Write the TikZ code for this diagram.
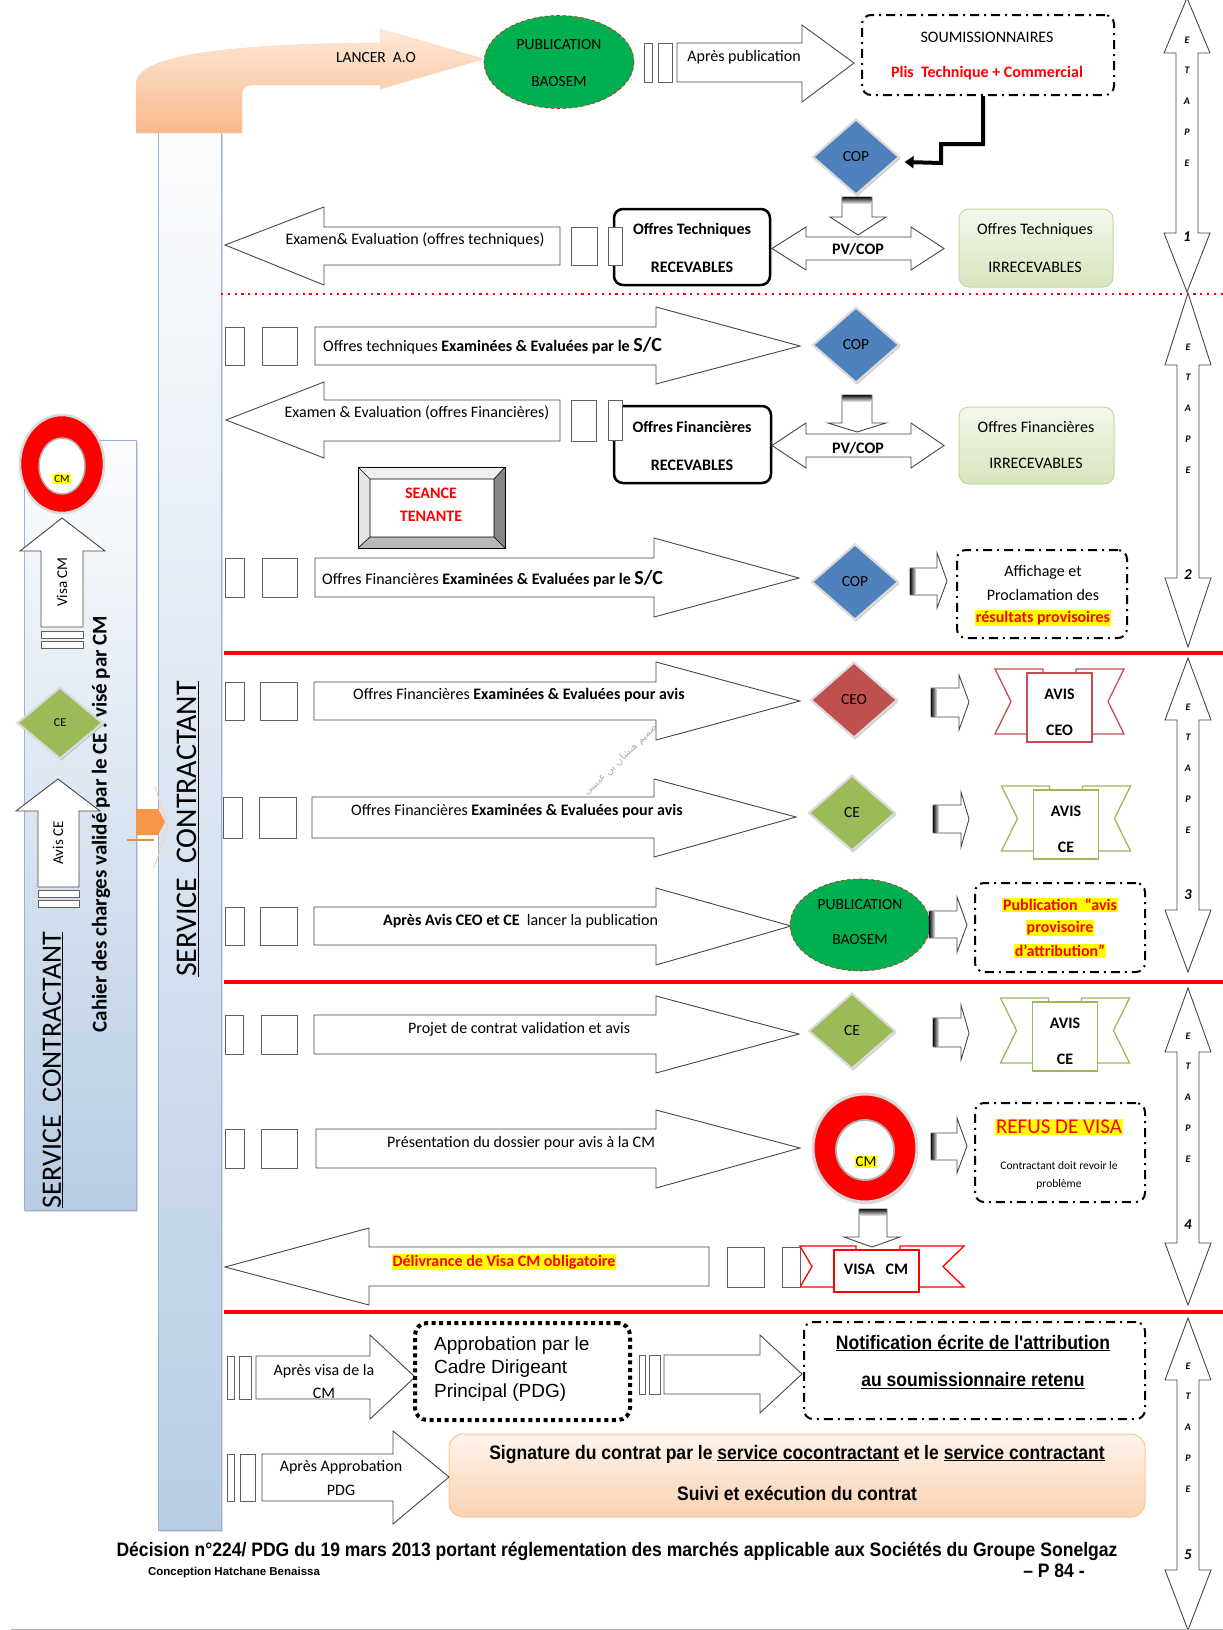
\documentclass[tikz,border=0pt]{standalone}
\usepackage{fontspec}
\setmainfont{Carlito}
\newfontfamily\narrowf[FakeStretch=0.9]{Liberation Sans}
\newfontfamily\arialf{Liberation Sans}
\newfontfamily\arabicfont[Script=Arabic]{DejaVu Sans}
\TeXXeTstate=1
\usetikzlibrary{shapes.geometric,shadows,calc,arrows.meta}

\definecolor{copblue}{HTML}{4F81BD}
\definecolor{cegreen}{HTML}{9BBB59}
\definecolor{ceored}{HTML}{C0504D}
\definecolor{baogreen}{HTML}{00B050}
\definecolor{panelblue}{HTML}{B8CCE4}
\definecolor{panelline}{HTML}{95B3D7}
\definecolor{pale}{HTML}{F4F8EC}
\definecolor{palegreen}{HTML}{D7E4BD}
\definecolor{paleline}{HTML}{C3D69B}
\definecolor{peach}{HTML}{FDEADA}
\definecolor{orangedeep}{HTML}{F9B88A}
\definecolor{signtop}{HTML}{FEF4EC}
\definecolor{signbot}{HTML}{FAD2B2}
\definecolor{hl}{HTML}{FFFF00}
\definecolor{arrorange}{HTML}{F79646}

\newcommand\fs[1]{\fontsize{#1}{#1}\selectfont}
\newcommand\hilite[1]{{\setlength{\fboxsep}{1pt}\colorbox{hl}{#1}}}

% block arrow: tail x, head-base x, tip x, shaft top, shaft bottom, head top, head bottom, tip y
\newcommand\harrow[8]{\draw[blockar] (#1,#4) -- (#2,#4) -- (#2,#6) -- (#3,#8) -- (#2,#7) -- (#2,#5) -- (#1,#5) -- cycle;}
% vertical block arrow: tail y, head-base y, tip y, shaft left, shaft right, head left, head right, tip x
\newcommand\varrow[8]{\draw[blockar] (#4,#1) -- (#4,#2) -- (#6,#2) -- (#8,#3) -- (#7,#2) -- (#5,#2) -- (#5,#1) -- cycle;}
% two-headed arrow: left tip, left base, right base, right tip, shaft top, shaft bottom, head top, head bottom
\newcommand\dblarrow[8]{\draw[blockar] (#1,{(#7+#8)/2}) -- (#2,#7) -- (#2,#5) -- (#3,#5) -- (#3,#7) -- (#4,{(#7+#8)/2}) -- (#3,#8) -- (#3,#6) -- (#2,#6) -- (#2,#8) -- cycle;}
% short push arrow with a dark tail band
\newcommand\pusharrow[8]{\harrow{#1}{#2}{#3}{#4}{#5}{#6}{#7}{#8}
  \shade[left color=black!85, right color=black!10] (#1+0.6,#4+0.6) rectangle (#1+6,#5-0.6);}
% down arrow with a dark top band
\newcommand\downpush[8]{\varrow{#1}{#2}{#3}{#4}{#5}{#6}{#7}{#8}
  \shade[top color=black!85, bottom color=black!15] (#4+0.6,#1+0.6) rectangle (#5-0.6,#1+6);}
% ETAPE double arrow: x centre, top tip, upper head base, lower head base, bottom tip
\newcommand\etape[5]{\draw[blockar] (#1,#2) -- (#1+23,#3) -- (#1+11,#3) -- (#1+11,#4) -- (#1+23,#4) -- (#1,#5) -- (#1-23,#4) -- (#1-11,#4) -- (#1-11,#3) -- (#1-23,#3) -- cycle;}
% ETAPE lettering: x, first letter y, number, number y
\newcommand\etapelabels[4]{%
  \foreach \l [count=\i from 0] in {E,T,A,P,E} \node[etl] (et#3-\i) at (#1,#2+30.7*\i) {\l};
  \node[etn] (etn#3) at (#1,#4) {#3};}
% opinion ribbon: centre x, top y, colour
\newcommand\avisribbon[3]{%
  \begin{scope}[shift={(#1,#2)}, draw=#3, line width=1.3pt, fill=white]
    \filldraw (-64.5,0) -- (-16.5,0) -- (-16.5,65) -- (-64.5,65) -- (-48.5,32.5) -- cycle;
    \filldraw (64.5,0) -- (16.5,0) -- (16.5,65) -- (64.5,65) -- (48.5,32.5) -- cycle;
    \filldraw (-32.5,4) rectangle (32.5,73);
  \end{scope}}

\begin{document}
\begin{tikzpicture}[x=1pt,y=-1pt,
  blockar/.style={draw=black!72, line width=0.9pt, fill=white, line join=miter},
  bar/.style={draw=black!62, line width=1pt, fill=white},
  txt/.style={inner sep=0pt},
  etl/.style={inner sep=0pt, font=\bfseries\itshape\fs{10}},
  etn/.style={inner sep=0pt, font=\bfseries\itshape\fs{15}},
  diam/.style={diamond, minimum width=87pt, minimum height=76pt, inner sep=0pt,
    draw=white!86!black, line width=2.2pt, font=\fs{15.5},
    drop shadow={shadow xshift=1pt, shadow yshift=-2pt, fill=black!40, opacity=0.5}},
  panel/.style={rectangle, draw=panelline, line width=0.8pt, inner sep=0pt,
    top color=white!95!panelblue, bottom color=panelblue,
    drop shadow={shadow xshift=2pt, shadow yshift=-2pt, fill=black!40, opacity=0.35}},
  dashdot/.style={rectangle, draw=black, line width=2pt, rounded corners=9pt, inner sep=0pt,
    dash pattern=on 9pt off 5pt on 2pt off 5pt},
  dotbox/.style={rectangle, draw=black, line width=4pt, rounded corners=12pt, inner sep=0pt,
    dash pattern=on 4pt off 3.6pt},
  recbox/.style={rectangle, draw=black, line width=2.5pt, rounded corners=9pt, fill=white, inner sep=0pt},
  irbox/.style={rectangle, draw=paleline, line width=1pt, rounded corners=10pt, inner sep=0pt,
    top color=pale, bottom color=palegreen},
  pubell/.style={ellipse, fill=baogreen, draw=red, dashed, line width=0.6pt, inner sep=0pt},
  redline/.style={red, line width=4pt},
  ]
\useasboundingbox (0,0) rectangle (1223,1630);

% ---------- left side: contracting service panels ----------
\node[panel, minimum width=112pt, minimum height=770pt] (leftpanel) at (80,825) {};
\node[panel, minimum width=63pt, minimum height=1398pt] (column) at (189.5,831) {};
\node[rotate=90, txt, font=\fs{30}] (coltitle) at (188,829) {\underline{SERVICE\ \ CONTRACTANT}};
\node[rotate=90, txt, font=\fs{28}] (lefttitle) at (53,1070) {\underline{SERVICE\ \ CONTRACTANT}};
\node[rotate=90, txt, font=\bfseries\fs{21}] (cahier) at (101,824) {Cahier des charges validé par le CE . visé par CM};

% CM ring of the left panel
\node[ellipse, minimum width=84pt, minimum height=98pt, fill=red, draw=black!15, line width=2.5pt, inner sep=0pt] (cmleft) at (62,464) {};
\node[ellipse, minimum width=46pt, minimum height=56pt, fill=white, draw=black!30, line width=1.5pt, inner sep=0pt] (cmlefthole) at (62,466) {};
\node[txt, font=\fs{11}] (cmlefttag) at (62,479) {\hilite{CM}};
% Visa CM arrow
\varrow{627}{551}{518}{41}{83}{20}{105}{62}
\draw[bar] (41,631) rectangle (83,638);
\draw[bar] (41,641) rectangle (83,648);
\node[rotate=90, txt, font=\fs{15}] (visacm) at (62,582) {Visa CM};
% CE and Avis CE arrow
\varrow{887}{811}{779}{38}{79}{16}{100}{58}
\draw[bar] (38,890) rectangle (79,897);
\draw[bar] (38,900) rectangle (79,907);
\node[rotate=90, txt, font=\fs{15}] (avisce) at (58,843) {Avis CE};
\node[diam, fill=cegreen, minimum width=86pt, minimum height=72pt, font=\fs{12}] (celeft) at (60,723) {CE};
% small orange arrow between the panels
\draw[arrorange!45, line width=1pt] (155,787) -- (168,827) -- (154,868);
\draw[arrorange!70!brown, line width=1.2pt] (127,840) -- (154,840);
\fill[arrorange] (136,809) -- (158,809) -- (165,822) -- (158,835) -- (136,835) -- cycle;

% ---------- launching the call for tenders ----------
\shade[top color=peach, bottom color=orangedeep, draw=orangedeep!60, line width=0.4pt]
  (136,133) -- (136,82) .. controls (140,55) and (230,44) .. (380,43) -- (380,29) -- (484,59)
  -- (380,89) -- (380,85) -- (252,85) .. controls (245,85) and (242,89) .. (242,95) -- (242,133) -- cycle;
\node[txt, font=\fs{15.5}] (lancer) at (376,58) {LANCER\ \ A.O};

\node[pubell, minimum width=150pt, minimum height=93pt] (pub1) at (559,62) {};
\node[txt, font=\fs{15.5}] (pub1a) at (559,45) {PUBLICATION};
\node[txt, font=\fs{15.5}] (pub1b) at (559,82) {BAOSEM};

\draw[bar] (644,43) rectangle (652,82);
\draw[bar] (658,43) rectangle (672,82);
\harrow{677}{802}{854}{43}{82}{25}{102}{63}
\node[txt, font=\fs{16}] (apub) at (744,57) {Après publication};

\node[dashdot, minimum width=252pt, minimum height=80pt] (soum) at (988,55) {};
\node[txt, font=\fs{16}] (soumA) at (987,37) {SOUMISSIONNAIRES};
\node[txt, font=\bfseries\fs{16}, text=red] (soumB) at (987,73) {Plis\ \ Technique + Commercial};

\node[diam, fill=copblue] (cop1) at (856,157) {COP};
\draw[line width=4pt, -{Triangle[length=9pt,width=12pt]}]
  ($(soum.south)+(-5,0)$) -- ++(0,48) -- ++(-42,0) -- ++(0,19) -- ($(cop1.east)+(4,5)$);

\downpush{197}{217}{235}{842}{872}{830}{886}{858}
\dblarrow{772}{806}{911}{944}{237}{260}{227}{270}
\node[txt, font=\bfseries\fs{16}] (pv1) at (858,249) {PV/COP};

\node[recbox, minimum width=156pt, minimum height=76pt] (rec1) at (692,247) {};
\node[txt, font=\bfseries\fs{16}] (rec1a) at (692,230) {Offres Techniques};
\node[txt, font=\bfseries\fs{16}] (rec1b) at (692,267) {RECEVABLES};
\draw[bar] (608,227) rectangle (622,265);
\draw[bar] (571,227) rectangle (597,265);

\harrow{560}{324}{225}{227}{265}{207}{285}{245}
\node[txt, font=\fs{16}] (exam1) at (415,240) {Examen\& Evaluation (offres techniques)};

\node[irbox, minimum width=154pt, minimum height=78pt] (irr1) at (1036,248) {};
\node[txt, font=\fs{16}] (irr1a) at (1035,230) {Offres Techniques};
\node[txt, font=\fs{16}] (irr1b) at (1035,267) {IRRECEVABLES};

% ---------- separators ----------
\draw[red, line width=2.2pt, dash pattern=on 2.2pt off 4.6pt] (221,294) -- (1223,294);
\draw[redline] (224,653) -- (1223,653);
\draw[redline] (224,982) -- (1223,982);
\draw[redline] (224,1312) -- (1223,1312);

% faint signature watermark
\node[rotate=44, anchor=east, txt, text=black!30, font=\arabicfont\fs{10}] (wm) at (658,724) {\beginR تصميم هتشان بن عيسى\endR};

% ---------- stage 2 ----------
\draw[bar] (225,327) rectangle (244,365);
\draw[bar] (262,327) rectangle (297,365);
\harrow{315}{656}{800}{327}{365}{307}{384}{346}
\node[txt, anchor=west, font=\fs{16}] (r21) at (323,346) {Offres techniques \textbf{Examinées \& Evaluées par le {\fs{20}S/C}}};
\node[diam, fill=copblue] (cop2) at (856,345) {COP};

\harrow{560}{324}{226}{400}{441}{382}{458}{420}
\node[txt, font=\fs{16}] (exam2) at (417,413) {Examen \& Evaluation (offres Financières)};
\draw[bar] (571,400) rectangle (596,441);
\node[recbox, minimum width=157pt, minimum height=77pt] (rec2) at (692.5,444.5) {};
\node[txt, font=\bfseries\fs{16}] (rec2a) at (692,427) {Offres Financières};
\node[txt, font=\bfseries\fs{16}] (rec2b) at (692,465) {RECEVABLES};
\draw[bar] (608,400) rectangle (622,440);
\downpush{395}{423}{432}{842}{872}{828}{886}{857}
\dblarrow{772}{806}{911}{944}{434}{457}{423}{468}
\node[txt, font=\bfseries\fs{16}] (pv2) at (858,448) {PV/COP};
\node[irbox, minimum width=155pt, minimum height=77pt] (irr2) at (1036.5,445.5) {};
\node[txt, font=\fs{16}] (irr2a) at (1036,427) {Offres Financières};
\node[txt, font=\fs{16}] (irr2b) at (1036,463) {IRRECEVABLES};

% bevelled "seance tenante" plate
\fill[white!94!black] (358,467) -- (505,467) -- (494,479) -- (370,479) -- cycle;
\fill[black!10] (358,467) -- (370,479) -- (370,537) -- (358,548) -- cycle;
\fill[black!28] (358,548) -- (370,537) -- (494,537) -- (505,548) -- cycle;
\fill[black!48] (505,467) -- (494,479) -- (494,537) -- (505,548) -- cycle;
\draw[black, line width=0.8pt] (358,467) rectangle (505,548);
\draw[black, line width=0.6pt] (370,479) rectangle (494,537)
  (358,467) -- (370,479) (505,467) -- (494,479) (358,548) -- (370,537) (505,548) -- (494,537);
\node[txt, font=\bfseries\fs{16}, text=red] (seanceA) at (431,493) {SEANCE};
\node[txt, font=\bfseries\fs{16}, text=red] (seanceB) at (431,516) {TENANTE};

\draw[bar] (225,558) rectangle (244,597);
\draw[bar] (262,558) rectangle (297,597);
\harrow{315}{654}{799}{558}{597}{538}{617}{578}
\node[txt, anchor=west, font=\fs{16}] (r22) at (322,579) {Offres Financières \textbf{Examinées \& Evaluées par le {\fs{20}S/C}}};
\node[diam, fill=copblue] (cop3) at (855,582) {COP};
\pusharrow{910}{937}{947}{568}{595}{553}{608}{581}
\node[dashdot, minimum width=170pt, minimum height=88pt] (affich) at (1042,594) {};
\node[txt, font=\fs{16}] (affA) at (1043,572) {Affichage et};
\node[txt, font=\fs{16}] (affB) at (1043,595) {Proclamation des};
\node[txt, font=\bfseries\fs{16}, text=red] (affC) at (1043,618) {\hilite{résultats provisoires}};

% ---------- stage 3 ----------
\draw[bar] (225,682) rectangle (244,720);
\draw[bar] (260,682) rectangle (297,720);
\harrow{314}{656}{800}{682}{720}{662}{740}{701}
\node[txt, anchor=west, font=\fs{16}] (r31) at (353,695) {Offres Financières \textbf{Examinées \& Evaluées pour avis}};
\node[diam, fill=ceored] (ceo) at (854,700) {CEO};
\pusharrow{931}{959}{969}{688}{717}{675}{730}{702}
\avisribbon{1059.5}{669}{ceored}
\node[txt, font=\bfseries\fs{16}] (avis1a) at (1059.5,694) {AVIS};
\node[txt, font=\bfseries\fs{16}] (avis1b) at (1059.5,730) {CEO};

\draw[bar] (223,797) rectangle (242,838);
\draw[bar] (259,797) rectangle (296,838);
\harrow{312}{654}{796}{797}{838}{779}{857}{817}
\node[txt, anchor=west, font=\fs{16}] (r32) at (351,811) {Offres Financières \textbf{Examinées \& Evaluées pour avis}};
\node[diam, fill=cegreen] (ce1) at (852,813) {CE};
\pusharrow{933}{961}{969}{805}{833}{792}{847}{819}
\avisribbon{1066}{786}{cegreen}
\node[txt, font=\bfseries\fs{16}] (avis2a) at (1066,811) {AVIS};
\node[txt, font=\bfseries\fs{16}] (avis2b) at (1066,847) {CE};

\draw[bar] (225,907) rectangle (244,945);
\draw[bar] (260,907) rectangle (297,945);
\harrow{314}{656}{791}{907}{945}{888}{965}{926}
\node[txt, anchor=west, font=\fs{16}] (r33) at (383,921) {\textbf{Après Avis CEO et CE}\ \ lancer la publication};
\node[pubell, minimum width=140pt, minimum height=92pt] (pub2) at (860,925) {};
\node[txt, font=\fs{15.5}] (pub2a) at (860,905) {PUBLICATION};
\node[txt, font=\fs{15.5}] (pub2b) at (860,940) {BAOSEM};
\pusharrow{929}{957}{967}{911}{938}{897}{952}{925}
\node[dashdot, minimum width=170pt, minimum height=89pt] (provis) at (1060,927.5) {};
\node[txt, font=\bfseries\fs{16}, text=red] (provA) at (1060,905) {\hilite{Publication\ \ “avis}};
\node[txt, font=\bfseries\fs{16}, text=red] (provB) at (1060,928) {\hilite{provisoire}};
\node[txt, font=\bfseries\fs{16}, text=red] (provC) at (1060,951) {\hilite{d’attribution”}};

% ---------- stage 4 ----------
\draw[bar] (225,1015) rectangle (243,1054);
\draw[bar] (261,1015) rectangle (297,1054);
\harrow{314}{656}{799}{1015}{1054}{996}{1073}{1034}
\node[txt, anchor=west, font=\fs{16}] (r41) at (408,1029) {Projet de contrat validation et avis};
\node[diam, fill=cegreen] (ce2) at (852,1031) {CE};
\pusharrow{933}{961}{969}{1018}{1047}{1005}{1060}{1033}
\avisribbon{1065}{998}{cegreen}
\node[txt, font=\bfseries\fs{16}] (avis3a) at (1065,1023) {AVIS};
\node[txt, font=\bfseries\fs{16}] (avis3b) at (1065,1059) {CE};

\draw[bar] (225,1129) rectangle (244,1168);
\draw[bar] (261,1129) rectangle (297,1168);
\harrow{316}{656}{800}{1129}{1168}{1110}{1188}{1148}
\node[txt, anchor=west, font=\fs{16}] (r42) at (387,1143) {Présentation du dossier pour avis à la CM};
\node[ellipse, minimum width=104pt, minimum height=108pt, fill=red, draw=black!15, line width=3pt, inner sep=0pt,
  drop shadow={shadow xshift=1pt, shadow yshift=-2pt, fill=black!40, opacity=0.4}] (cm) at (865,1148) {};
\node[ellipse, minimum width=58pt, minimum height=60pt, fill=white, draw=black!30, line width=1.8pt, inner sep=0pt] (cmhole) at (865,1150) {};
\node[txt, font=\fs{15}] (cmtag) at (866,1162) {\hilite{CM}};
\pusharrow{931}{957}{967}{1133}{1160}{1118}{1173}{1146}
\node[dashdot, minimum width=170pt, minimum height=99pt] (refus) at (1060,1152.5) {};
\node[txt, font=\fs{21}, text=red] (refusA) at (1059,1127) {\hilite{REFUS DE VISA}};
\node[txt, font=\fs{11.5}] (refusB) at (1059,1166) {Contractant doit revoir le};
\node[txt, font=\fs{11.5}] (refusC) at (1059,1184) {problème};

\downpush{1209}{1237}{1247}{859}{887}{844}{900}{872}
\begin{scope}[draw=red, line width=1.3pt, fill=white]
  \filldraw (800,1246) -- (856,1246) -- (856,1287) -- (800,1287) -- (812,1266.5) -- cycle;
  \filldraw (964,1246) -- (900,1246) -- (900,1287) -- (964,1287) -- (943,1266.5) -- cycle;
  \filldraw (834,1250) rectangle (919,1292);
\end{scope}
\node[txt, font=\bfseries\fs{16}] (visa) at (876,1269) {VISA\ \ \ CM};

\harrow{709}{369}{225}{1247}{1286}{1228}{1305}{1267}
\node[txt, font=\bfseries\fs{16}, text=red] (deliv) at (504,1262) {\hilite{Délivrance de Visa CM obligatoire}};
\draw[bar] (727,1247) rectangle (764,1287);
\draw[bar] (782,1247) rectangle (800,1287);

% ---------- stage 5 ----------
\draw[bar] (227,1356) rectangle (234,1399);
\draw[bar] (239,1356) rectangle (251,1399);
\harrow{256}{370}{415}{1356}{1399}{1335}{1419}{1377}
\node[txt, font=\fs{16}] (avA) at (324,1371) {Après visa de la};
\node[txt, font=\fs{16}] (avB) at (324,1393) {CM};
\node[dotbox, minimum width=215pt, minimum height=97pt] (approb) at (522.5,1371.5) {};
\node[txt, anchor=west, font=\arialf\fs{19}] (apA) at (434,1346) {Approbation par le};
\node[txt, anchor=west, font=\arialf\fs{19}] (apB) at (434,1369) {Cadre Dirigeant};
\node[txt, anchor=west, font=\arialf\fs{19}] (apC) at (434,1393) {Principal (PDG)};
\draw[bar] (639,1355) rectangle (645,1394);
\draw[bar] (649,1355) rectangle (660,1394);
\harrow{664}{760}{802}{1355}{1394}{1335}{1413}{1374}
\node[dashdot, minimum width=341pt, minimum height=97pt] (notif) at (974.5,1370.5) {};
\node[txt, font=\narrowf\bfseries\fs{19.5}] (notA) at (973,1343) {\underline{Notification écrite de l'attribution}};
\node[txt, font=\narrowf\bfseries\fs{19.5}] (notB) at (973,1381) {\underline{au soumissionnaire retenu}};

\node[rectangle, rounded corners=14pt, minimum width=696pt, minimum height=83pt, inner sep=0pt,
  top color=signtop, bottom color=signbot, draw=signbot!85!orange, line width=1pt] (sign) at (797,1475.5) {};
\draw[bar] (227,1454) rectangle (234,1501);
\draw[bar] (240,1454) rectangle (255,1501);
\harrow{262}{393}{449}{1454}{1501}{1431}{1524}{1477}
\node[txt, font=\fs{16}] (aaA) at (341,1467) {Après Approbation};
\node[txt, font=\fs{16}] (aaB) at (341,1490) {PDG};
\node[txt, font=\narrowf\bfseries\fs{19.5}] (signA) at (797,1454) {Signature du contrat par le \underline{service cocontractant} et le \underline{service contractant}};
\node[txt, font=\narrowf\bfseries\fs{19.5}] (signB) at (797,1493) {Suivi et exécution du contrat};

% ---------- stage arrows on the right ----------
\etape{1187}{-2}{53}{233}{292}
\etape{1188}{293}{365}{578}{647}
\etape{1188}{658}{720}{910}{972}
\etape{1188}{988}{1052}{1243}{1305}
\etape{1188}{1318}{1380}{1570}{1630}
\etapelabels{1187}{40}{1}{237}
\etapelabels{1188}{347}{2}{575}
\etapelabels{1188}{707}{3}{895}
\etapelabels{1188}{1036}{4}{1225}
\etapelabels{1188}{1366}{5}{1555}

% ---------- footer ----------
\node[txt, font=\narrowf\bfseries\fs{19.5}] (decision) at (617,1551) {Décision n°224/ PDG du 19 mars 2013 portant réglementation des marchés applicable aux Sociétés du Groupe Sonelgaz};
\node[txt, font=\narrowf\bfseries\fs{19.5}] (page) at (1054,1571) {– P 84 -};
\node[txt, font=\arialf\bfseries\fs{11.5}] (author) at (234,1573) {Conception Hatchane Benaissa};
\draw[black!30, line width=1pt] (11,1629) -- (1223,1629);
\end{tikzpicture}
\end{document}
